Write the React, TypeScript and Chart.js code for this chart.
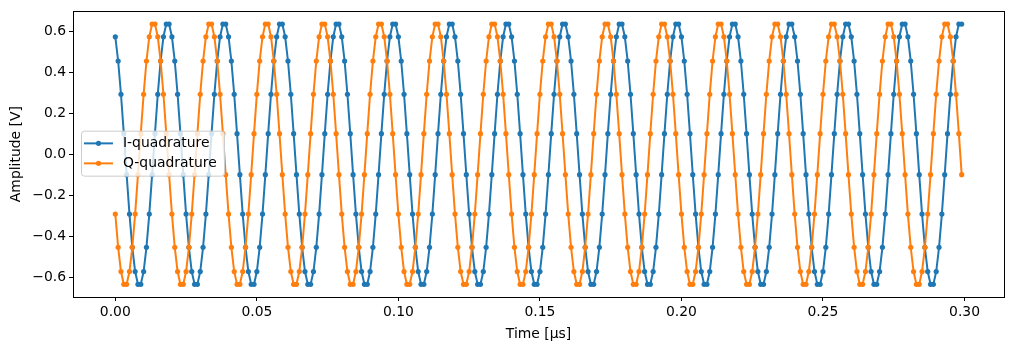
import React, { useEffect, useRef } from "react";
import { Chart, registerables } from "chart.js";

Chart.register(...registerables);

// Sample times [µs]
const TIME_US: number[] = [
  0.000,0.001,0.002,0.003,0.004,0.005,0.006,0.007,0.008,0.009,
  0.010,0.011,0.012,0.013,0.014,0.015,0.016,0.017,0.018,0.019,
  0.020,0.021,0.022,0.023,0.024,0.025,0.026,0.027,0.028,0.029,
  0.030,0.031,0.032,0.033,0.034,0.035,0.036,0.037,0.038,0.039,
  0.040,0.041,0.042,0.043,0.044,0.045,0.046,0.047,0.048,0.049,
  0.050,0.051,0.052,0.053,0.054,0.055,0.056,0.057,0.058,0.059,
  0.060,0.061,0.062,0.063,0.064,0.065,0.066,0.067,0.068,0.069,
  0.070,0.071,0.072,0.073,0.074,0.075,0.076,0.077,0.078,0.079,
  0.080,0.081,0.082,0.083,0.084,0.085,0.086,0.087,0.088,0.089,
  0.090,0.091,0.092,0.093,0.094,0.095,0.096,0.097,0.098,0.099,
  0.100,0.101,0.102,0.103,0.104,0.105,0.106,0.107,0.108,0.109,
  0.110,0.111,0.112,0.113,0.114,0.115,0.116,0.117,0.118,0.119,
  0.120,0.121,0.122,0.123,0.124,0.125,0.126,0.127,0.128,0.129,
  0.130,0.131,0.132,0.133,0.134,0.135,0.136,0.137,0.138,0.139,
  0.140,0.141,0.142,0.143,0.144,0.145,0.146,0.147,0.148,0.149,
  0.150,0.151,0.152,0.153,0.154,0.155,0.156,0.157,0.158,0.159,
  0.160,0.161,0.162,0.163,0.164,0.165,0.166,0.167,0.168,0.169,
  0.170,0.171,0.172,0.173,0.174,0.175,0.176,0.177,0.178,0.179,
  0.180,0.181,0.182,0.183,0.184,0.185,0.186,0.187,0.188,0.189,
  0.190,0.191,0.192,0.193,0.194,0.195,0.196,0.197,0.198,0.199,
  0.200,0.201,0.202,0.203,0.204,0.205,0.206,0.207,0.208,0.209,
  0.210,0.211,0.212,0.213,0.214,0.215,0.216,0.217,0.218,0.219,
  0.220,0.221,0.222,0.223,0.224,0.225,0.226,0.227,0.228,0.229,
  0.230,0.231,0.232,0.233,0.234,0.235,0.236,0.237,0.238,0.239,
  0.240,0.241,0.242,0.243,0.244,0.245,0.246,0.247,0.248,0.249,
  0.250,0.251,0.252,0.253,0.254,0.255,0.256,0.257,0.258,0.259,
  0.260,0.261,0.262,0.263,0.264,0.265,0.266,0.267,0.268,0.269,
  0.270,0.271,0.272,0.273,0.274,0.275,0.276,0.277,0.278,0.279,
  0.280,0.281,0.282,0.283,0.284,0.285,0.286,0.287,0.288,0.289,
  0.290,0.291,0.292,0.293,0.294,0.295,0.296,0.297,0.298,0.299,
];

// I-quadrature amplitude [V]
const I_VALUES: number[] = [
  0.572,0.454,0.292,0.100,-0.100,-0.292,-0.454,-0.572,-0.634,-0.634,-0.572,-0.454,-0.292,-0.100,0.100,0.292,0.454,0.572,0.634,0.634,
  0.572,0.454,0.292,0.100,-0.100,-0.292,-0.454,-0.572,-0.634,-0.634,-0.572,-0.454,-0.292,-0.100,0.100,0.292,0.454,0.572,0.634,0.634,
  0.572,0.454,0.292,0.100,-0.100,-0.292,-0.454,-0.572,-0.634,-0.634,-0.572,-0.454,-0.292,-0.100,0.100,0.292,0.454,0.572,0.634,0.634,
  0.572,0.454,0.292,0.100,-0.100,-0.292,-0.454,-0.572,-0.634,-0.634,-0.572,-0.454,-0.292,-0.100,0.100,0.292,0.454,0.572,0.634,0.634,
  0.572,0.454,0.292,0.100,-0.100,-0.292,-0.454,-0.572,-0.634,-0.634,-0.572,-0.454,-0.292,-0.100,0.100,0.292,0.454,0.572,0.634,0.634,
  0.572,0.454,0.292,0.100,-0.100,-0.292,-0.454,-0.572,-0.634,-0.634,-0.572,-0.454,-0.292,-0.100,0.100,0.292,0.454,0.572,0.634,0.634,
  0.572,0.454,0.292,0.100,-0.100,-0.292,-0.454,-0.572,-0.634,-0.634,-0.572,-0.454,-0.292,-0.100,0.100,0.292,0.454,0.572,0.634,0.634,
  0.572,0.454,0.292,0.100,-0.100,-0.292,-0.454,-0.572,-0.634,-0.634,-0.572,-0.454,-0.292,-0.100,0.100,0.292,0.454,0.572,0.634,0.634,
  0.572,0.454,0.292,0.100,-0.100,-0.292,-0.454,-0.572,-0.634,-0.634,-0.572,-0.454,-0.292,-0.100,0.100,0.292,0.454,0.572,0.634,0.634,
  0.572,0.454,0.292,0.100,-0.100,-0.292,-0.454,-0.572,-0.634,-0.634,-0.572,-0.454,-0.292,-0.100,0.100,0.292,0.454,0.572,0.634,0.634,
  0.572,0.454,0.292,0.100,-0.100,-0.292,-0.454,-0.572,-0.634,-0.634,-0.572,-0.454,-0.292,-0.100,0.100,0.292,0.454,0.572,0.634,0.634,
  0.572,0.454,0.292,0.100,-0.100,-0.292,-0.454,-0.572,-0.634,-0.634,-0.572,-0.454,-0.292,-0.100,0.100,0.292,0.454,0.572,0.634,0.634,
  0.572,0.454,0.292,0.100,-0.100,-0.292,-0.454,-0.572,-0.634,-0.634,-0.572,-0.454,-0.292,-0.100,0.100,0.292,0.454,0.572,0.634,0.634,
  0.572,0.454,0.292,0.100,-0.100,-0.292,-0.454,-0.572,-0.634,-0.634,-0.572,-0.454,-0.292,-0.100,0.100,0.292,0.454,0.572,0.634,0.634,
  0.572,0.454,0.292,0.100,-0.100,-0.292,-0.454,-0.572,-0.634,-0.634,-0.572,-0.454,-0.292,-0.100,0.100,0.292,0.454,0.572,0.634,0.634,
];

// Q-quadrature amplitude [V]
const Q_VALUES: number[] = [
  -0.292,-0.454,-0.572,-0.634,-0.634,-0.572,-0.454,-0.292,-0.100,0.100,0.292,0.454,0.572,0.634,0.634,0.572,0.454,0.292,0.100,-0.100,
  -0.292,-0.454,-0.572,-0.634,-0.634,-0.572,-0.454,-0.292,-0.100,0.100,0.292,0.454,0.572,0.634,0.634,0.572,0.454,0.292,0.100,-0.100,
  -0.292,-0.454,-0.572,-0.634,-0.634,-0.572,-0.454,-0.292,-0.100,0.100,0.292,0.454,0.572,0.634,0.634,0.572,0.454,0.292,0.100,-0.100,
  -0.292,-0.454,-0.572,-0.634,-0.634,-0.572,-0.454,-0.292,-0.100,0.100,0.292,0.454,0.572,0.634,0.634,0.572,0.454,0.292,0.100,-0.100,
  -0.292,-0.454,-0.572,-0.634,-0.634,-0.572,-0.454,-0.292,-0.100,0.100,0.292,0.454,0.572,0.634,0.634,0.572,0.454,0.292,0.100,-0.100,
  -0.292,-0.454,-0.572,-0.634,-0.634,-0.572,-0.454,-0.292,-0.100,0.100,0.292,0.454,0.572,0.634,0.634,0.572,0.454,0.292,0.100,-0.100,
  -0.292,-0.454,-0.572,-0.634,-0.634,-0.572,-0.454,-0.292,-0.100,0.100,0.292,0.454,0.572,0.634,0.634,0.572,0.454,0.292,0.100,-0.100,
  -0.292,-0.454,-0.572,-0.634,-0.634,-0.572,-0.454,-0.292,-0.100,0.100,0.292,0.454,0.572,0.634,0.634,0.572,0.454,0.292,0.100,-0.100,
  -0.292,-0.454,-0.572,-0.634,-0.634,-0.572,-0.454,-0.292,-0.100,0.100,0.292,0.454,0.572,0.634,0.634,0.572,0.454,0.292,0.100,-0.100,
  -0.292,-0.454,-0.572,-0.634,-0.634,-0.572,-0.454,-0.292,-0.100,0.100,0.292,0.454,0.572,0.634,0.634,0.572,0.454,0.292,0.100,-0.100,
  -0.292,-0.454,-0.572,-0.634,-0.634,-0.572,-0.454,-0.292,-0.100,0.100,0.292,0.454,0.572,0.634,0.634,0.572,0.454,0.292,0.100,-0.100,
  -0.292,-0.454,-0.572,-0.634,-0.634,-0.572,-0.454,-0.292,-0.100,0.100,0.292,0.454,0.572,0.634,0.634,0.572,0.454,0.292,0.100,-0.100,
  -0.292,-0.454,-0.572,-0.634,-0.634,-0.572,-0.454,-0.292,-0.100,0.100,0.292,0.454,0.572,0.634,0.634,0.572,0.454,0.292,0.100,-0.100,
  -0.292,-0.454,-0.572,-0.634,-0.634,-0.572,-0.454,-0.292,-0.100,0.100,0.292,0.454,0.572,0.634,0.634,0.572,0.454,0.292,0.100,-0.100,
  -0.292,-0.454,-0.572,-0.634,-0.634,-0.572,-0.454,-0.292,-0.100,0.100,0.292,0.454,0.572,0.634,0.634,0.572,0.454,0.292,0.100,-0.100,
];

const SERIES_NAMES = ["I-quadrature", "Q-quadrature"];
const SERIES_COLORS = ["#1f77b4", "#ff7f0e"];
const X_TICKS = [0.0, 0.05, 0.1, 0.15, 0.2, 0.25, 0.3];
const Y_TICKS = [-0.6, -0.4, -0.2, 0.0, 0.2, 0.4, 0.6];
const X_TITLE = "Time [µs]";
const Y_TITLE = "Amplitude [V]";

const FONT = "'DejaVu Sans', sans-serif";
const FONT_SIZE = 13.9;

const framePlugin = {
  id: "mplFrame",
  afterDatasetsDraw(chart: any) {
    const { ctx, chartArea } = chart;
    ctx.save();
    ctx.strokeStyle = "#000";
    ctx.lineWidth = 1;
    ctx.strokeRect(
      Math.round(chartArea.left) + 0.5,
      Math.round(chartArea.top) + 0.5,
      Math.round(chartArea.right - chartArea.left),
      Math.round(chartArea.bottom - chartArea.top)
    );
    ctx.restore();
  },
};

const legendPlugin = {
  id: "mplLegend",
  afterDraw(chart: any) {
    const { ctx, chartArea } = chart;
    const w = 143;
    const h = 45;
    const x = chartArea.left + 8;
    const y = (chartArea.top + chartArea.bottom) / 2 - h / 2 - 1;
    ctx.save();
    ctx.beginPath();
    if (ctx.roundRect) ctx.roundRect(x + 0.5, y + 0.5, w, h, 3);
    else ctx.rect(x + 0.5, y + 0.5, w, h);
    ctx.fillStyle = "rgba(255,255,255,0.8)";
    ctx.fill();
    ctx.strokeStyle = "#cccccc";
    ctx.lineWidth = 1;
    ctx.stroke();
    ctx.font = `${FONT_SIZE}px ${FONT}`;
    ctx.textBaseline = "middle";
    ctx.textAlign = "left";
    SERIES_NAMES.forEach((name, i) => {
      const ry = y + 12.7 + i * 20;
      ctx.strokeStyle = SERIES_COLORS[i];
      ctx.lineWidth = 2;
      ctx.beginPath();
      ctx.moveTo(x + 3, ry);
      ctx.lineTo(x + 32, ry);
      ctx.stroke();
      ctx.fillStyle = SERIES_COLORS[i];
      ctx.beginPath();
      ctx.arc(x + 17.5, ry, 2.6, 0, Math.PI * 2);
      ctx.fill();
      ctx.fillStyle = "#000";
      ctx.fillText(name, x + 42, ry + 0.5);
    });
    ctx.restore();
  },
};

export default function App() {
  const canvasRef = useRef<HTMLCanvasElement | null>(null);

  useEffect(() => {
    document.body.style.margin = "0";
    const canvas = canvasRef.current;
    if (!canvas) return;
    const seriesValues = [I_VALUES, Q_VALUES];
    const datasets = seriesValues.map((vals, i) => ({
      label: SERIES_NAMES[i],
      data: TIME_US.map((t, k) => ({ x: t, y: vals[k] })),
      borderColor: SERIES_COLORS[i],
      backgroundColor: SERIES_COLORS[i],
      pointBackgroundColor: SERIES_COLORS[i],
      pointBorderWidth: 0,
      pointRadius: 2.6,
      pointHoverRadius: 2.6,
      borderWidth: 2,
      tension: 0,
      fill: false,
      order: i === 0 ? 1 : 0,
    }));

    const chart = new Chart(canvas, {
      type: "line",
      data: { datasets },
      plugins: [framePlugin, legendPlugin],
      options: {
        animation: false,
        responsive: false,
        devicePixelRatio: 1,
        layout: { padding: { top: 10, right: 8, left: 0, bottom: 0 } },
        plugins: {
          legend: { display: false },
          tooltip: { enabled: false },
        },
        scales: {
          x: {
            type: "linear",
            min: -0.01495,
            max: 0.31395,
            afterFit: (s: any) => {
              s.height = 53;
            },
            afterBuildTicks: (s: any) => {
              s.ticks = X_TICKS.map((v) => ({ value: v }));
            },
            grid: {
              drawOnChartArea: false,
              drawTicks: true,
              tickLength: 4,
              tickWidth: 1,
              color: "#000",
            },
            border: { display: false },
            ticks: {
              color: "#000",
              padding: 3,
              maxRotation: 0,
              autoSkip: false,
              font: { family: FONT, size: FONT_SIZE },
              callback: (v: any) => Number(v).toFixed(2),
            },
            title: {
              display: true,
              text: X_TITLE,
              color: "#000",
              font: { family: FONT, size: FONT_SIZE },
              padding: { top: 0, bottom: 7 },
            },
          },
          y: {
            type: "linear",
            min: -0.696,
            max: 0.696,
            afterFit: (s: any) => {
              s.width = 73;
            },
            afterBuildTicks: (s: any) => {
              s.ticks = Y_TICKS.map((v) => ({ value: v }));
            },
            grid: {
              drawOnChartArea: false,
              drawTicks: true,
              tickLength: 4,
              tickWidth: 1,
              color: "#000",
            },
            border: { display: false },
            ticks: {
              color: "#000",
              padding: 3,
              autoSkip: false,
              font: { family: FONT, size: FONT_SIZE },
              callback: (v: any) => {
                const n = Number(v);
                const s = Math.abs(n).toFixed(1);
                return n < -1e-9 ? "\u2212" + s : s;
              },
            },
            title: {
              display: true,
              text: Y_TITLE,
              color: "#000",
              font: { family: FONT, size: FONT_SIZE },
              padding: { top: 8, bottom: 0 },
            },
          },
        },
      },
    });

    return () => {
      chart.destroy();
    };
  }, []);

  return (
    <div style={{ width: 1012, height: 350, background: "#fff" }}>
      <canvas ref={canvasRef} width={1012} height={350} style={{ display: "block", width: 1012, height: 350 }} />
    </div>
  );
}
